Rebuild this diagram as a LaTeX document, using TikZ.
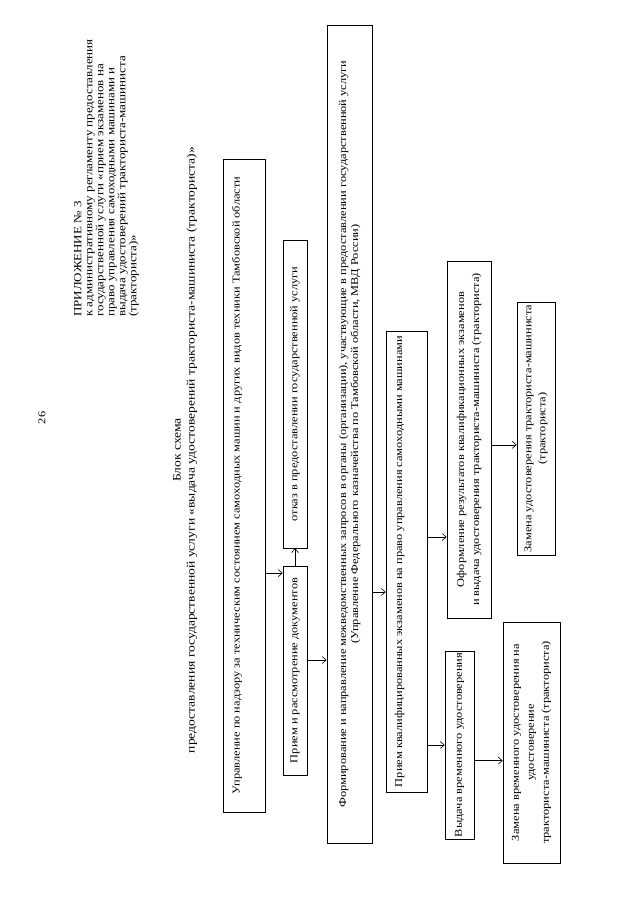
\documentclass[tikz,border=0pt]{standalone}
\usepackage{fontspec}
\setmainfont[FakeStretch=1.18]{Liberation Serif}
\usetikzlibrary{arrows.meta,calc}

\tikzset{
  blok/.style={draw, line width=0.6pt, inner sep=2pt, align=center,
    font=\fontsize{10.5}{12}\selectfont},
  blokverh/.style={blok, text height=9pt, text depth=18pt},
  strelka/.style={-{Straight Barb[length=4pt,width=7pt]}, line width=0.6pt},
}

\begin{document}
\begin{tikzpicture}[x=1pt,y=1pt,rotate=90,transform shape]
\useasboundingbox (0,0) rectangle (905,-640);
\node[font=\fontsize{10.5}{12}\selectfont] (nomer) at (487,-42) {26};
\node[anchor=north west, align=left, inner sep=0pt, font=\fontsize{11}{11}\selectfont] (prilozh) at (588,-74)
  {ПРИЛОЖЕНИЕ № 3\\к административному регламенту предоставления\\государственной услуги «прием экзаменов на\\право управления самоходными машинами и\\выдача удостоверений тракториста-машиниста\\(тракториста)»};
\node[align=center, font=\fontsize{11.5}{14}\selectfont] (zagolovok) at (455,-185)
  {Блок схема\\предоставления государственной услуги «выдача удостоверений тракториста-машиниста (тракториста)»};

% bloki
\node[blokverh, minimum width=653pt, minimum height=42pt] (upr) at (419.5,-244)
  {Управление по надзору за техническим состоянием самоходных машин и других видов техники Тамбовской области};
\node[blok, minimum width=209pt, minimum height=24pt] (priem) at (234.5,-295) {Прием и рассмотрение документов};
\node[blok, minimum width=308pt, minimum height=24pt] (otkaz) at (511,-295) {отказ в предоставлении государственной услуги};
\node[blok, minimum width=818pt, minimum height=45pt] (formir) at (471,-349.5)
  {Формирование и направление межведомственных запросов в органы (организации), участвующие в предоставлении государственной услуги\\(Управление Федерального казначейства по Тамбовской области, МВД России)};
\node[blokverh, minimum width=461pt, minimum height=41pt] (ekzam) at (343.5,-406.5)
  {Прием квалифицированных экзаменов на право управления самоходными машинами};
\node[blok, minimum width=357pt, minimum height=44pt, font=\fontsize{10.5}{15}\selectfont] (oform) at (465.5,-469)
  {Оформление результатов квалификационных экзаменов\\и выдача удостоверения тракториста-машиниста (тракториста)};
\node[blok, minimum width=253pt, minimum height=38pt, font=\fontsize{10.5}{14}\selectfont] (zamena) at (476.5,-536)
  {Замена удостоверения тракториста-машиниста\\(тракториста)};
\node[blok, minimum width=180pt, minimum height=29pt] (vydacha) at (160,-459.5) {Выдача временного удостоверения};
\node[blok, minimum width=241pt, minimum height=57pt, font=\fontsize{10.5}{15}\selectfont] (zamvrem) at (162.5,-531.5)
  {Замена временного удостоверения на\\удостоверение\\тракториста-машиниста (тракториста)};

% strelki
\draw[strelka] ($(upr.south west)!0.366!(upr.south east)$) coordinate (s1) -- (s1 |- priem.north);
\draw[strelka] (priem.east) -- (otkaz.west);
\draw[strelka] ($(priem.south west)!0.55!(priem.south east)$) coordinate (s2) -- (s2 |- formir.north);
\draw[strelka] ($(formir.south west)!0.307!(formir.south east)$) coordinate (s3) -- (s3 |- ekzam.north);
\draw[strelka] ($(ekzam.south west)!0.553!(ekzam.south east)$) coordinate (s4) -- (s4 |- oform.north);
\draw[strelka] (vydacha.north |- ekzam.south) -- (vydacha.north);
\draw[strelka] ($(oform.south west)!0.485!(oform.south east)$) coordinate (s6) -- (s6 |- zamena.north);
\draw[strelka] ($(vydacha.south west)!0.417!(vydacha.south east)$) coordinate (s5) -- (s5 |- zamvrem.north);
\end{tikzpicture}
\end{document}
